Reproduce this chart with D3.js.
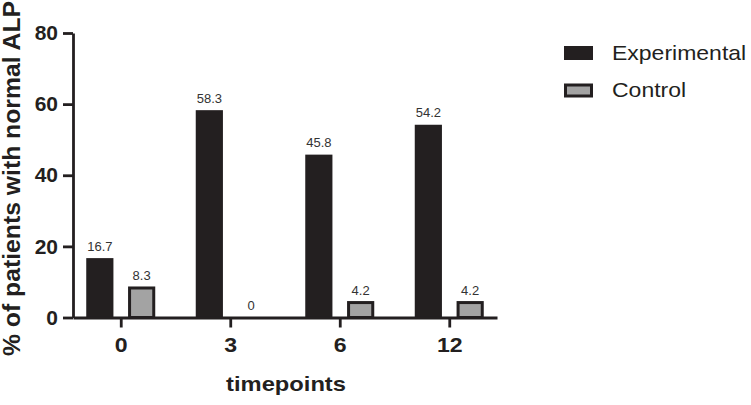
<!DOCTYPE html>
<html>
<head>
<meta charset="utf-8">
<script src="https://cdn.jsdelivr.net/npm/d3@7"></script>
<style>
  body { margin: 0; background: #fff; }
  svg { display: block; font-family: "Liberation Sans", Arial, sans-serif; }
</style>
</head>
<body>
<svg width="751" height="405"></svg>
<script>
// data
const timepoints = ['0', '3', '6', '12'];
const series = ['Experimental', 'Control'];
const experimental = [16.7, 58.3, 45.8, 54.2];
const control = [8.3, 0, 4.2, 4.2];
const yTicks = [0, 20, 40, 60, 80];

const ink = '#231f20';
const colors = { Experimental: ink, Control: '#a3a3a3' };

const svg = d3.select('svg');

// ---- scales
const x0 = d3.scalePoint()
    .domain(timepoints)
    .range([73, 497])
    .padding(0.436);

const x1 = d3.scaleBand()
    .domain(series)
    .range([-34.5, 34.5])
    .paddingInner(0.35);

const y = d3.scaleLinear()
    .domain([0, 80])
    .range([317.5, 33]);

const rows = timepoints.map((t, i) => ({
    t,
    vals: [
        { s: 'Experimental', v: experimental[i] },
        { s: 'Control', v: control[i] }
    ]
}));

// ---- bars
const groups = svg.selectAll('.grp')
    .data(rows)
    .join('g')
    .attr('class', 'grp')
    .attr('transform', d => `translate(${x0(d.t)},0)`);

groups.selectAll('rect')
    .data(d => d.vals.filter(v => v.v > 0))
    .join('rect')
    .attr('x', d => d.s === 'Control' ? x1(d.s) + 1.5 : x1(d.s))
    .attr('width', d => d.s === 'Control' ? x1.bandwidth() - 3 : x1.bandwidth())
    .attr('y', d => y(d.v))
    .attr('height', d => y(0) - y(d.v))
    .attr('fill', d => colors[d.s])
    .attr('stroke', d => d.s === 'Control' ? ink : 'none')
    .attr('stroke-width', 3);

// valores acima das barras
groups.selectAll('.val')
    .data(d => d.vals)
    .join('text')
    .attr('class', 'val')
    .attr('x', d => x1(d.s) + x1.bandwidth() / 2)
    .attr('y', d => y(d.v) - 7.5)
    .attr('text-anchor', 'middle')
    .style('font-size', '13px')
    .style('fill', '#333')
    .text(d => d.v);

// ---- eixos
const xAxis = svg.append('g')
    .attr('transform', `translate(0,${y(0)})`)
    .call(d3.axisBottom(x0).tickSize(10).tickSizeOuter(0).tickPadding(10));

const yAxis = svg.append('g')
    .attr('transform', 'translate(73,0)')
    .call(d3.axisLeft(y).tickValues(yTicks).tickSize(10).tickSizeOuter(0).tickPadding(5));

[xAxis, yAxis].forEach(a => {
    a.select('.domain').attr('stroke', ink).attr('stroke-width', 2.8);
    a.selectAll('.tick line').attr('stroke', ink).attr('stroke-width', 2.8);
    a.selectAll('.tick text')
        .attr('fill', ink)
        .style('font-size', '21px')
        .style('font-weight', 'bold')
        .style('font-family', '"Liberation Sans", Arial, sans-serif');
});
xAxis.selectAll('.tick text').attr('transform', 'scale(1.1,1)');

// ---- titulos
svg.append('text')
    .attr('transform', 'translate(286,391) scale(1.13,1)')
    .attr('text-anchor', 'middle')
    .style('font-size', '21px')
    .style('font-weight', 'bold')
    .attr('fill', ink)
    .text('timepoints');

svg.append('text')
    .attr('transform', 'translate(20,178.5) rotate(-90)')
    .attr('text-anchor', 'middle')
    .attr('textLength', 355)
    .attr('lengthAdjust', 'spacingAndGlyphs')
    .style('font-size', '23px')
    .style('font-weight', 'bold')
    .attr('fill', ink)
    .text('% of patients with normal ALP');

// ---- legenda
const legend = svg.append('g').attr('transform', 'translate(564,46)');
const li = legend.selectAll('g')
    .data(series)
    .join('g')
    .attr('transform', (d, i) => `translate(0,${i * 37.5})`);

li.append('rect')
    .attr('x', d => d === 'Control' ? 1.5 : 0)
    .attr('y', d => d === 'Control' ? 1.5 : 0)
    .attr('width', d => d === 'Control' ? 26 : 29)
    .attr('height', d => d === 'Control' ? 11 : 14)
    .attr('fill', d => colors[d])
    .attr('stroke', d => d === 'Control' ? ink : 'none')
    .attr('stroke-width', 3);

li.append('text')
    .attr('transform', 'translate(48,13.5) scale(1.15,1)')
    .style('font-size', '20px')
    .attr('fill', ink)
    .text(d => d);
</script>
</body>
</html>
